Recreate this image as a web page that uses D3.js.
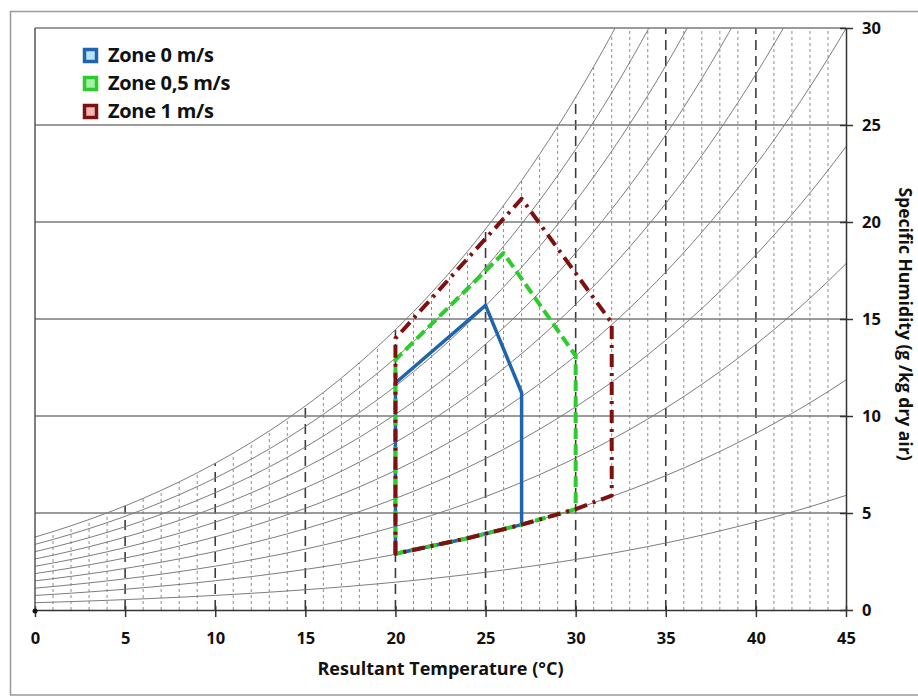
<!DOCTYPE html>
<html>
<head>
<meta charset="utf-8">
<script src="https://cdn.jsdelivr.net/npm/d3@7"></script>
<style>
  html, body { margin: 0; padding: 0; background: #ffffff; }
  svg { display: block; }
  text { font-family: "Open Sans", "Liberation Sans", sans-serif; font-weight: 700; fill: #111; }
</style>
</head>
<body>
<svg id="chart" width="918" height="698"></svg>
<script>
// ---------- DATA ----------
// Temperatures (°C) at which the saturation vapour pressure is tabulated
const tableTemps = d3.range(0, 46);
// Saturation vapour pressure (kPa) at 0..45 °C
const satPressure = [0.6109, 0.6567, 0.7054, 0.7574, 0.8127, 0.8716, 0.9342, 1.0007, 1.0713, 1.1464,
  1.2261, 1.3105, 1.4001, 1.4950, 1.5955, 1.7020, 1.8146, 1.9338, 2.0597, 2.1928,
  2.3334, 2.4819, 2.6386, 2.8038, 2.9780, 3.1617, 3.3552, 3.5590, 3.7735, 3.9993,
  4.2367, 4.4863, 4.7486, 5.0242, 5.3136, 5.6175, 5.9364, 6.2709, 6.6217, 6.9893,
  7.3747, 7.7783, 8.2009, 8.6432, 9.1060, 9.5903];
// Relative humidity curves drawn (%)
const rhLevels = [10, 20, 30, 40, 50, 60, 70, 80, 90, 100];
const pressure = 101.325;

// Axis ticks
const xTicks = [0, 5, 10, 15, 20, 25, 30, 35, 40, 45];
const yTicks = [0, 5, 10, 15, 20, 25, 30];
const minorXTicks = d3.range(1, 45).filter(d => d % 5 !== 0);
const majorXGrid = [5, 10, 15, 20, 25, 30, 35, 40];
const yGrid = [5, 10, 15, 20, 25, 30];

// Comfort zones: [resultant temperature °C, specific humidity g/kg]
const zone0 = [[20, 2.9], [20, 11.7], [25, 15.7], [27, 11.2], [27, 4.4], [24, 3.7]];
const zone05 = [[20, 2.9], [20, 12.9], [26, 18.4], [30, 13.1], [30, 5.2], [27, 4.4], [24, 3.7]];
const zone1 = [[20, 2.9], [20, 14.0], [27, 21.2], [32, 14.8], [32, 5.9], [30, 5.2], [27, 4.4], [24, 3.7]];

const zoneNames = ["Zone 0 m/s", "Zone 0,5 m/s", "Zone 1 m/s"];
const zoneColors = ["#1f64ad", "#2bcc2b", "#7f1010"];
const zoneFills = ["#b9e2f5", "#a6f0a6", "#f3b6b6"];

// ---------- LAYOUT ----------
const svg = d3.select("#chart");
const plot = { left: 35, right: 846, top: 28, bottom: 610 };

const x = d3.scaleLinear().domain([0, 45]).range([plot.left, plot.right]);
const y = d3.scaleLinear().domain([0, 30]).range([plot.bottom, plot.top]);

// Outer frame
svg.append("rect")
  .attr("x", 10.5).attr("y", 11.5).attr("width", 930).attr("height", 683.5)
  .attr("fill", "none").attr("stroke", "#9a9a9a").attr("stroke-width", 1.5);

svg.append("defs").append("clipPath").attr("id", "plotclip")
  .append("rect").attr("x", plot.left).attr("y", plot.top)
  .attr("width", plot.right - plot.left).attr("height", plot.bottom - plot.top);

// Relative humidity curves (specific humidity, g/kg)
const curves = rhLevels.map(rh => tableTemps.map((t, i) => {
  const e = satPressure[i] * rh / 100;
  return [t, 622 * e / (pressure - 0.378 * e)];
}));
const saturation = curves[curves.length - 1];
const satTop = t => y(Math.min(30, saturation[t][1]));

const grid = svg.append("g");

// Minor vertical dotted lines every 1 °C (below the saturation curve)
grid.selectAll("line.minor").data(minorXTicks).join("line")
  .attr("class", "minor")
  .attr("x1", d => x(d)).attr("x2", d => x(d))
  .attr("y1", plot.bottom).attr("y2", d => satTop(d))
  .attr("stroke", "#8c8c8c").attr("stroke-width", 1)
  .attr("stroke-dasharray", "3,3");

// Major vertical dashed lines every 5 °C
grid.selectAll("line.major").data(majorXGrid).join("line")
  .attr("class", "major")
  .attr("x1", d => x(d)).attr("x2", d => x(d))
  .attr("y1", plot.bottom).attr("y2", d => satTop(d))
  .attr("stroke", "#3c3c3c").attr("stroke-width", 1.6)
  .attr("stroke-dasharray", "10,6");

// Horizontal gridlines
grid.selectAll("line.h").data(yGrid).join("line")
  .attr("class", "h")
  .attr("x1", plot.left).attr("x2", plot.right)
  .attr("y1", d => y(d)).attr("y2", d => y(d))
  .attr("stroke", "#7a7a7a").attr("stroke-width", 1.6);

const curveLine = d3.line().x(d => x(d[0])).y(d => y(d[1])).curve(d3.curveMonotoneX);
svg.append("g").attr("clip-path", "url(#plotclip)")
  .selectAll("path").data(curves).join("path")
  .attr("d", curveLine)
  .attr("fill", "none").attr("stroke", "#7d7d7d").attr("stroke-width", 1);

// Axes
const xAxis = d3.axisBottom(x).tickValues(xTicks).tickSize(7).tickSizeOuter(0);
const gx = svg.append("g").attr("transform", `translate(0,${plot.bottom})`).call(xAxis);
gx.select(".domain").attr("stroke", "#333").attr("stroke-width", 1.5);
gx.selectAll(".tick line").attr("stroke", "#333").attr("stroke-width", 1.5).attr("y1", -4);
gx.selectAll(".tick text").attr("dy", 0).attr("y", 34)
  .style("font-size", "16.5px").style("font-weight", "700").style("font-family", "'Open Sans', sans-serif").attr("fill", "#111");

const yAxis = d3.axisRight(y).tickValues(yTicks).tickSize(7).tickSizeOuter(0);
const gy = svg.append("g").attr("transform", `translate(${plot.right},0)`).call(yAxis);
gy.select(".domain").attr("stroke", "#333").attr("stroke-width", 1.5);
gy.selectAll(".tick line").attr("stroke", "#333").attr("stroke-width", 1.5).attr("x1", -6);
gy.selectAll(".tick text").attr("x", 16)
  .style("font-size", "16.5px").style("font-weight", "700").style("font-family", "'Open Sans', sans-serif").attr("fill", "#111");

// Left axis line
svg.append("line")
  .attr("x1", plot.left).attr("x2", plot.left).attr("y1", plot.top).attr("y2", plot.bottom)
  .attr("stroke", "#555").attr("stroke-width", 1.5);
svg.append("circle").attr("cx", plot.left).attr("cy", plot.bottom + 1).attr("r", 2.5).attr("fill", "#111");

// Axis titles
svg.append("text")
  .attr("x", (plot.left + plot.right) / 2).attr("y", 675)
  .attr("text-anchor", "middle").style("font-size", "18px")
  .text("Resultant Temperature (°C)");
svg.append("text")
  .attr("transform", `translate(899,${(plot.top + plot.bottom) / 2 + 5}) rotate(90)`)
  .attr("text-anchor", "middle").style("font-size", "17.5px")
  .text("Specific Humidity (g /kg dry air)");

// Zones
const zoneLine = d3.line().x(d => x(d[0])).y(d => y(d[1])).curve(d3.curveLinearClosed);
const zones = svg.append("g").attr("fill", "none");
zones.append("path").datum(zone0).attr("d", zoneLine)
  .attr("stroke", zoneColors[0]).attr("stroke-width", 3.5).attr("stroke-linejoin", "round");
zones.append("path").datum(zone05).attr("d", zoneLine)
  .attr("stroke", zoneColors[1]).attr("stroke-width", 4).attr("stroke-dasharray", "11,5")
  .attr("stroke-linejoin", "round");
zones.append("path").datum(zone1).attr("d", zoneLine)
  .attr("stroke", zoneColors[2]).attr("stroke-width", 4).attr("stroke-dasharray", "13,6,3,6")
  .attr("stroke-linejoin", "round");

// Legend
const legend = svg.append("g");
const legendRows = legend.selectAll("g").data(zoneNames).join("g")
  .attr("transform", (d, i) => `translate(83,${48 + i * 28})`);
legendRows.append("rect")
  .attr("x", 1.5).attr("y", 1.5).attr("width", 12).attr("height", 12)
  .attr("fill", (d, i) => zoneFills[i]).attr("stroke", (d, i) => zoneColors[i]).attr("stroke-width", 3.5);
legendRows.append("text")
  .attr("x", 25).attr("y", 14)
  .style("font-size", "20px").style("letter-spacing", "-0.3px")
  .text(d => d);
</script>
</body>
</html>
